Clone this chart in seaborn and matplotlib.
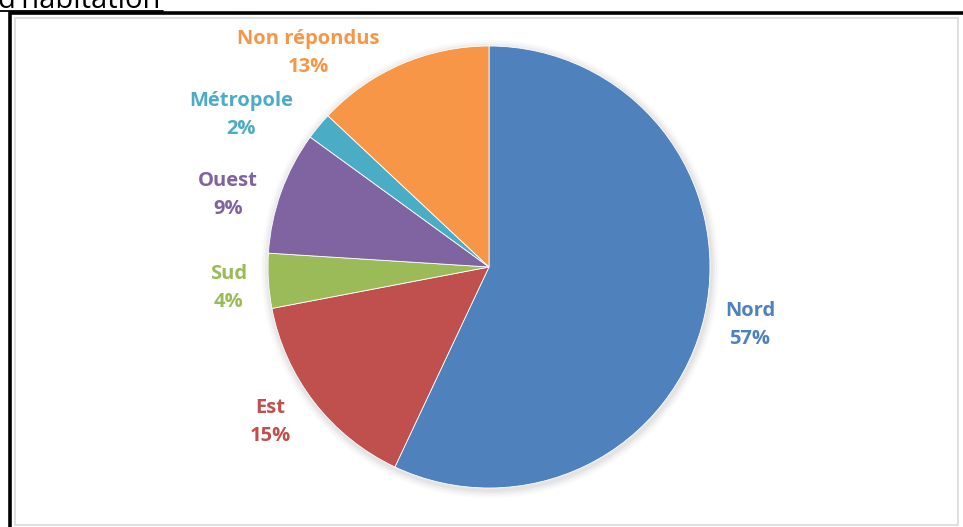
import matplotlib
matplotlib.use("Agg")
import matplotlib.pyplot as plt
import seaborn as sns
from matplotlib.patches import Rectangle
from matplotlib.lines import Line2D

# données
regions = ["Nord", "Est", "Sud", "Ouest", "Métropole", "Non répondus"]
parts = [57, 15, 4, 9, 2, 13]
couleurs = ["#4F81BD", "#C0504D", "#9BBB59", "#8064A2", "#4BACC6", "#F79646"]

# position des étiquettes (pixels, origine en haut à gauche)
pos_etiquettes = [(750, 325), (270, 422), (229, 288), (228, 195), (241, 115), (308, 53)]

sns.set_theme(style="white")
plt.rcParams["font.family"] = ["Open Sans", "DejaVu Sans"]

W, H = 963, 527
fig = plt.figure(figsize=(W / 100, H / 100), dpi=100)
fig.patch.set_facecolor("white")
ax = fig.add_axes([0, 0, 1, 1])

palette = sns.color_palette(couleurs)
cx, cy, r = 489, H - 267, 221

# ombre légère
for k, a in enumerate([0.035, 0.03, 0.025, 0.02]):
    ax.add_patch(plt.Circle((cx + 1, cy - 2), r + 2 + 2 * k, color="#000000", alpha=a, lw=0, zorder=0))

wedges, _ = ax.pie(parts, colors=palette, startangle=90, counterclock=False,
                   center=(cx, cy), radius=r, frame=True,
                   wedgeprops=dict(edgecolor="white", linewidth=0.6))

for nom, p, c, (x, y) in zip(regions, parts, palette, pos_etiquettes):
    ax.text(x, H - y, f"{nom}\n{p}%", ha="center", va="center", color=c,
            fontsize=14.5, fontweight="bold", linespacing=1.5)

ax.set_xlim(0, W)
ax.set_ylim(0, H)
ax.set_aspect("auto")
ax.axis("off")

# cadre gris du graphique
ax.add_patch(Rectangle((15, H - 525), 943, 507, fill=False, edgecolor="#D9D9D9", lw=1.2, zorder=5))
# cadre noir
ax.add_patch(Rectangle((9.5, -20), 980, H - 13 + 20, fill=False, edgecolor="black", lw=2.6, zorder=6, clip_on=False))

# titre coupé en haut
ax.text(-3, H - 8, "d'habitation", fontsize=21, color="black",
        ha="left", va="baseline", clip_on=False)
ax.add_line(Line2D([0, 163], [H - 10.5, H - 10.5], color="black", lw=1.3))

fig.savefig("out.png", dpi=100)
